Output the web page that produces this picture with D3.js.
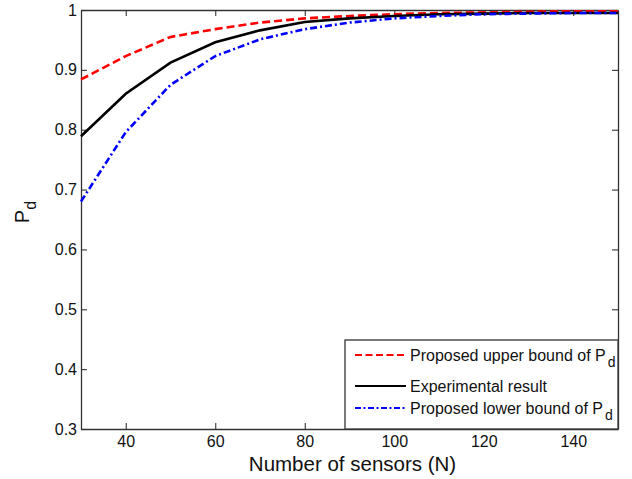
<!DOCTYPE html>
<html>
<head>
<meta charset="utf-8">
<script src="https://cdn.jsdelivr.net/npm/d3@7"></script>
<style>
  body { margin: 0; background: #fff; }
  svg { display: block; font-family: Arial, "Liberation Sans", sans-serif; }
</style>
</head>
<body>
<svg id="chart"></svg>
<script>
// number of sensors
const sensors = [30, 40, 50, 60, 70, 80, 90, 100, 110, 120, 130, 140, 150];
// detection probability values
const upperBound = [0.884, 0.923, 0.955, 0.968, 0.979, 0.986, 0.990, 0.993, 0.995, 0.996, 0.997, 0.998, 0.998];
const experimental = [0.789, 0.860, 0.912, 0.946, 0.966, 0.980, 0.986, 0.990, 0.993, 0.994, 0.995, 0.995, 0.995];
const lowerBound = [0.680, 0.796, 0.875, 0.923, 0.951, 0.968, 0.979, 0.986, 0.990, 0.993, 0.994, 0.995, 0.995];

const xTicks = [40, 60, 80, 100, 120, 140];
const yTicks = [0.3, 0.4, 0.5, 0.6, 0.7, 0.8, 0.9, 1];

const seriesNames = ["Proposed upper bound of P", "Experimental result", "Proposed lower bound of P"];
const seriesSubs = ["d", "", "d"];

const width = 632, height = 479;
const plotLeft = 81, plotRight = 618, plotTop = 10, plotBottom = 429;

const svg = d3.select("#chart").attr("width", width).attr("height", height);

const x = d3.scaleLinear().domain([30, 150]).range([plotLeft, plotRight]);
const y = d3.scaleLinear().domain([0.3, 1]).range([plotBottom, plotTop]);

const axisColor = "#333";
const tickLen = 6;

// axes, ticks pointing inward like matlab
const bottomAxis = svg.append("g")
  .attr("transform", `translate(0, ${plotBottom})`)
  .call(d3.axisBottom(x).tickValues(xTicks).tickSizeInner(-tickLen).tickSizeOuter(0).tickPadding(7).tickFormat(d3.format("d")));

const topAxis = svg.append("g")
  .attr("transform", `translate(0, ${plotTop})`)
  .call(d3.axisTop(x).tickValues(xTicks).tickSizeInner(-tickLen).tickSizeOuter(0).tickFormat(""));

const leftAxis = svg.append("g")
  .attr("transform", `translate(${plotLeft}, 0)`)
  .call(d3.axisLeft(y).tickValues(yTicks).tickSizeInner(-tickLen).tickSizeOuter(0).tickPadding(4).tickFormat(d => d === 1 ? "1" : d3.format(".1f")(d)));

const rightAxis = svg.append("g")
  .attr("transform", `translate(${plotRight}, 0)`)
  .call(d3.axisRight(y).tickValues(yTicks).tickSizeInner(-tickLen).tickSizeOuter(0).tickFormat(""));

[bottomAxis, topAxis, leftAxis, rightAxis].forEach(g => {
  g.select(".domain").attr("stroke", axisColor).attr("stroke-width", 1.3);
  g.selectAll(".tick line").attr("stroke", axisColor).attr("stroke-width", 1.1);
  g.selectAll(".tick text")
    .attr("fill", "#111")
    .attr("font-size", 16)
    .attr("font-family", "Arial, 'Liberation Sans', sans-serif");
});

// curves
const line = d3.line()
  .x((d, i) => x(sensors[i]))
  .y(d => y(d));

const styles = [
  { color: "#ff0000", dash: "8,4", data: upperBound },
  { color: "#000000", dash: null, data: experimental },
  { color: "#0000ff", dash: "7,3,2,3", data: lowerBound }
];

styles.forEach(s => {
  svg.append("path")
    .attr("d", line(s.data))
    .attr("fill", "none")
    .attr("stroke", s.color)
    .attr("stroke-width", 2.6)
    .attr("stroke-dasharray", s.dash);
});

// legend
const legend = svg.append("g");
legend.append("rect")
  .attr("x", 345).attr("y", 340)
  .attr("width", plotRight - 345).attr("height", plotBottom - 340)
  .attr("fill", "#fff")
  .attr("stroke", axisColor)
  .attr("stroke-width", 1.3);

const rowY = [355, 386, 408];
styles.forEach((s, i) => {
  legend.append("line")
    .attr("x1", 355).attr("x2", 406)
    .attr("y1", rowY[i]).attr("y2", rowY[i])
    .attr("stroke", s.color)
    .attr("stroke-width", 2)
    .attr("stroke-dasharray", s.dash ? (i === 0 ? "7,3.5" : "6,2.5,2,2.5") : null);
  const t = legend.append("text")
    .attr("x", 410).attr("y", rowY[i] + 6)
    .attr("font-size", 16)
    .attr("fill", "#111")
    .text(seriesNames[i]);
  if (seriesSubs[i]) {
    t.append("tspan")
      .attr("dy", 6)
      .attr("dx", 2)
      .attr("font-size", 14)
      .text(seriesSubs[i]);
  }
});

// axis labels
svg.append("text")
  .attr("x", (plotLeft + plotRight) / 2 + 3)
  .attr("y", 471)
  .attr("text-anchor", "middle")
  .attr("font-size", 20.5)
  .attr("fill", "#111")
  .text("Number of sensors (N)");

const yLabel = svg.append("text")
  .attr("transform", "translate(29, 212) rotate(-90)")
  .attr("text-anchor", "middle")
  .attr("font-size", 20)
  .attr("fill", "#111")
  .text("P");
yLabel.append("tspan")
  .attr("dy", 7)
  .attr("font-size", 16)
  .text("d");
</script>
</body>
</html>
